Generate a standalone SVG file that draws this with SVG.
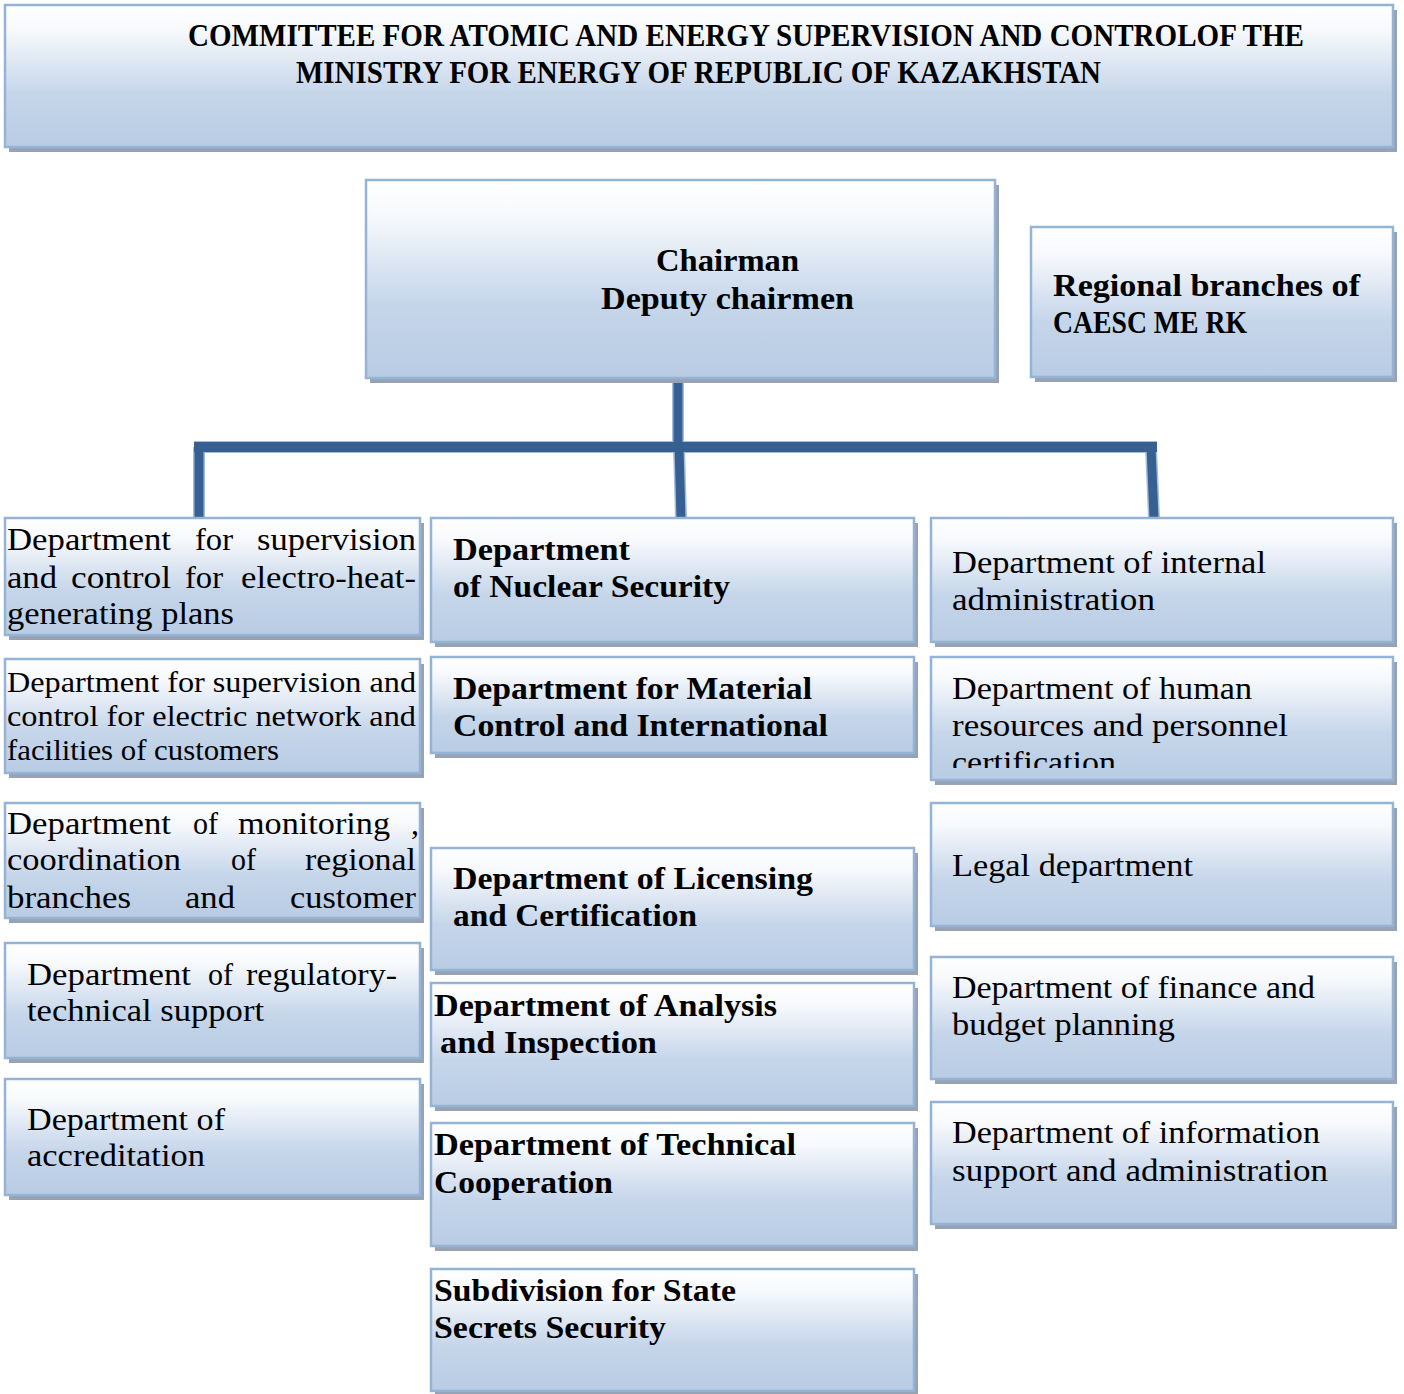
<svg xmlns="http://www.w3.org/2000/svg" width="1404" height="1394" viewBox="0 0 1404 1394">
<defs>
<linearGradient id="g" x1="0" y1="0" x2="0" y2="1">
<stop offset="0" stop-color="#ffffff"/>
<stop offset="0.18" stop-color="#f7f9fc"/>
<stop offset="0.62" stop-color="#c6d6ea"/>
<stop offset="1" stop-color="#b8cce4"/>
</linearGradient>
<clipPath id="cR2"><rect x="931" y="657" width="462" height="111"/></clipPath>
</defs>
<style>
.sh{fill:#97a3b3}
.bx{fill:url(#g);stroke:#95b3d7;stroke-width:2.5}
.t{font-family:"Liberation Serif","Times New Roman",serif;font-size:32px;fill:#000}
.s{font-size:29px}
.b{font-weight:bold}
.ti{font-size:31px;text-anchor:middle}
.ln{fill:none;stroke:#376092;stroke-linecap:butt}
.lo{fill:none;stroke:#a7bddb;stroke-linecap:butt}
</style>
<rect width="1404" height="1394" fill="#ffffff"/>
<g id="connectors">
<path class="lo" stroke-width="12" d="M678 378V447M194 447H1157M199 447V518M679 447L681 518M1151 447L1154 518"/>
<path class="ln" stroke-width="9" d="M678 378V447M199 447V518M679 447L681 518M1151 447L1154 518"/>
<path class="ln" stroke-width="10" d="M194 447H1157"/>
</g>
<g id="title">
<rect class="sh" x="9" y="10" width="1388" height="142"/>
<rect class="bx" x="5" y="5" width="1388" height="142"/>
<text class="t b ti" x="746" y="46" textLength="1116" lengthAdjust="spacingAndGlyphs">COMMITTEE FOR ATOMIC AND ENERGY SUPERVISION AND CONTROLOF THE</text>
<text class="t b ti" x="698.5" y="83" textLength="805" lengthAdjust="spacingAndGlyphs">MINISTRY FOR ENERGY OF REPUBLIC OF KAZAKHSTAN</text>
</g>
<g id="chairman">
<rect class="sh" x="370" y="185" width="629" height="198"/>
<rect class="bx" x="366" y="180" width="629" height="198"/>
<text class="t b" x="656" y="271" textLength="143" lengthAdjust="spacingAndGlyphs">Chairman</text>
<text class="t b" x="601" y="309" textLength="253" lengthAdjust="spacingAndGlyphs">Deputy chairmen</text>
</g>
<g id="regional">
<rect class="sh" x="1035" y="232" width="362" height="150"/>
<rect class="bx" x="1031" y="227" width="362" height="150"/>
<text class="t b" x="1053" y="296" textLength="307" lengthAdjust="spacingAndGlyphs">Regional branches of</text>
<text class="t b" x="1053" y="333" textLength="194" lengthAdjust="spacingAndGlyphs">CAESC ME RK</text>
</g>
<g id="L1">
<rect class="sh" x="9" y="523" width="415" height="117"/>
<rect class="bx" x="5" y="518" width="415" height="117"/>
<text class="t" y="550"><tspan x="7" textLength="164" lengthAdjust="spacingAndGlyphs">Department</tspan><tspan x="195" textLength="38" lengthAdjust="spacingAndGlyphs">for</tspan><tspan x="257" textLength="159" lengthAdjust="spacingAndGlyphs">supervision</tspan></text>
<text class="t" y="588"><tspan x="7" textLength="50" lengthAdjust="spacingAndGlyphs">and</tspan><tspan x="71" textLength="100" lengthAdjust="spacingAndGlyphs">control</tspan><tspan x="185" textLength="38" lengthAdjust="spacingAndGlyphs">for</tspan><tspan x="241" textLength="175" lengthAdjust="spacingAndGlyphs">electro-heat-</tspan></text>
<text class="t" x="7" y="624" textLength="227" lengthAdjust="spacingAndGlyphs">generating plans</text>
</g>
<g id="L2">
<rect class="sh" x="9" y="664" width="415" height="114"/>
<rect class="bx" x="5" y="659" width="415" height="114"/>
<text class="t s" x="7" y="692" textLength="409" lengthAdjust="spacingAndGlyphs">Department for supervision and</text>
<text class="t s" x="7" y="726" textLength="409" lengthAdjust="spacingAndGlyphs">control for electric network and</text>
<text class="t s" x="7" y="760" textLength="272" lengthAdjust="spacingAndGlyphs">facilities of customers</text>
</g>
<g id="L3">
<rect class="sh" x="9" y="808" width="415" height="115"/>
<rect class="bx" x="5" y="803" width="415" height="115"/>
<text class="t" y="834"><tspan x="7" textLength="164" lengthAdjust="spacingAndGlyphs">Department</tspan><tspan x="193" textLength="25" lengthAdjust="spacingAndGlyphs">of</tspan><tspan x="238" textLength="152" lengthAdjust="spacingAndGlyphs">monitoring</tspan><tspan x="411">,</tspan></text>
<text class="t" y="870"><tspan x="7" textLength="174" lengthAdjust="spacingAndGlyphs">coordination</tspan><tspan x="231" textLength="25" lengthAdjust="spacingAndGlyphs">of</tspan><tspan x="305" textLength="111" lengthAdjust="spacingAndGlyphs">regional</tspan></text>
<text class="t" y="908"><tspan x="7" textLength="124" lengthAdjust="spacingAndGlyphs">branches</tspan><tspan x="185" textLength="50" lengthAdjust="spacingAndGlyphs">and</tspan><tspan x="290" textLength="126" lengthAdjust="spacingAndGlyphs">customer</tspan></text>
</g>
<g id="L4">
<rect class="sh" x="9" y="948" width="415" height="115"/>
<rect class="bx" x="5" y="943" width="415" height="115"/>
<text class="t" y="985"><tspan x="27" textLength="164" lengthAdjust="spacingAndGlyphs">Department</tspan><tspan x="208" textLength="25" lengthAdjust="spacingAndGlyphs">of</tspan><tspan x="246" textLength="151" lengthAdjust="spacingAndGlyphs">regulatory-</tspan></text>
<text class="t" x="27" y="1021" textLength="237" lengthAdjust="spacingAndGlyphs">technical support</text>
</g>
<g id="L5">
<rect class="sh" x="9" y="1084" width="415" height="116"/>
<rect class="bx" x="5" y="1079" width="415" height="116"/>
<text class="t" x="27" y="1130" textLength="198" lengthAdjust="spacingAndGlyphs">Department of</text>
<text class="t" x="27" y="1166" textLength="178" lengthAdjust="spacingAndGlyphs">accreditation</text>
</g>
<g id="M1">
<rect class="sh" x="435" y="523" width="483" height="124"/>
<rect class="bx" x="431" y="518" width="483" height="124"/>
<text class="t b" x="453" y="560" textLength="177" lengthAdjust="spacingAndGlyphs">Department</text>
<text class="t b" x="453" y="597" textLength="277" lengthAdjust="spacingAndGlyphs">of Nuclear Security</text>
</g>
<g id="M2">
<rect class="sh" x="435" y="662" width="483" height="96"/>
<rect class="bx" x="431" y="657" width="483" height="96"/>
<text class="t b" x="453" y="699" textLength="359" lengthAdjust="spacingAndGlyphs">Department for Material</text>
<text class="t b" x="453" y="736" textLength="375" lengthAdjust="spacingAndGlyphs">Control and International</text>
</g>
<g id="M3">
<rect class="sh" x="435" y="853" width="483" height="122"/>
<rect class="bx" x="431" y="848" width="483" height="122"/>
<text class="t b" x="453" y="889" textLength="360" lengthAdjust="spacingAndGlyphs">Department of Licensing</text>
<text class="t b" x="453" y="926" textLength="244" lengthAdjust="spacingAndGlyphs">and Certification</text>
</g>
<g id="M4">
<rect class="sh" x="435" y="988" width="483" height="123"/>
<rect class="bx" x="431" y="983" width="483" height="123"/>
<text class="t b" x="434" y="1016" textLength="343" lengthAdjust="spacingAndGlyphs">Department of Analysis</text>
<text class="t b" x="440" y="1053" textLength="217" lengthAdjust="spacingAndGlyphs">and Inspection</text>
</g>
<g id="M5">
<rect class="sh" x="435" y="1128" width="483" height="123"/>
<rect class="bx" x="431" y="1123" width="483" height="123"/>
<text class="t b" x="434" y="1155" textLength="362" lengthAdjust="spacingAndGlyphs">Department of Technical</text>
<text class="t b" x="434" y="1193" textLength="179" lengthAdjust="spacingAndGlyphs">Cooperation</text>
</g>
<g id="M6">
<rect class="sh" x="435" y="1274" width="483" height="122"/>
<rect class="bx" x="431" y="1269" width="483" height="122"/>
<text class="t b" x="434" y="1301" textLength="302" lengthAdjust="spacingAndGlyphs">Subdivision for State</text>
<text class="t b" x="434" y="1338" textLength="232" lengthAdjust="spacingAndGlyphs">Secrets Security</text>
</g>
<g id="R1">
<rect class="sh" x="935" y="523" width="462" height="124"/>
<rect class="bx" x="931" y="518" width="462" height="124"/>
<text class="t" x="952" y="573" textLength="314" lengthAdjust="spacingAndGlyphs">Department of internal</text>
<text class="t" x="952" y="610" textLength="203" lengthAdjust="spacingAndGlyphs">administration</text>
</g>
<g id="R2">
<rect class="sh" x="935" y="662" width="462" height="123"/>
<rect class="bx" x="931" y="657" width="462" height="123"/>
<g clip-path="url(#cR2)">
<text class="t" x="952" y="699" textLength="300" lengthAdjust="spacingAndGlyphs">Department of human</text>
<text class="t" x="952" y="736" textLength="336" lengthAdjust="spacingAndGlyphs">resources and personnel</text>
<text class="t" x="952" y="773" textLength="164" lengthAdjust="spacingAndGlyphs">certification</text>
</g>
</g>
<g id="R3">
<rect class="sh" x="935" y="808" width="462" height="123"/>
<rect class="bx" x="931" y="803" width="462" height="123"/>
<text class="t" x="952" y="876" textLength="241" lengthAdjust="spacingAndGlyphs">Legal department</text>
</g>
<g id="R4">
<rect class="sh" x="935" y="962" width="462" height="122"/>
<rect class="bx" x="931" y="957" width="462" height="122"/>
<text class="t" x="952" y="998" textLength="363" lengthAdjust="spacingAndGlyphs">Department of finance and</text>
<text class="t" x="952" y="1035" textLength="223" lengthAdjust="spacingAndGlyphs">budget planning</text>
</g>
<g id="R5">
<rect class="sh" x="935" y="1107" width="462" height="122"/>
<rect class="bx" x="931" y="1102" width="462" height="122"/>
<text class="t" x="952" y="1143" textLength="368" lengthAdjust="spacingAndGlyphs">Department of information</text>
<text class="t" x="952" y="1181" textLength="376" lengthAdjust="spacingAndGlyphs">support and administration</text>
</g>
</svg>
